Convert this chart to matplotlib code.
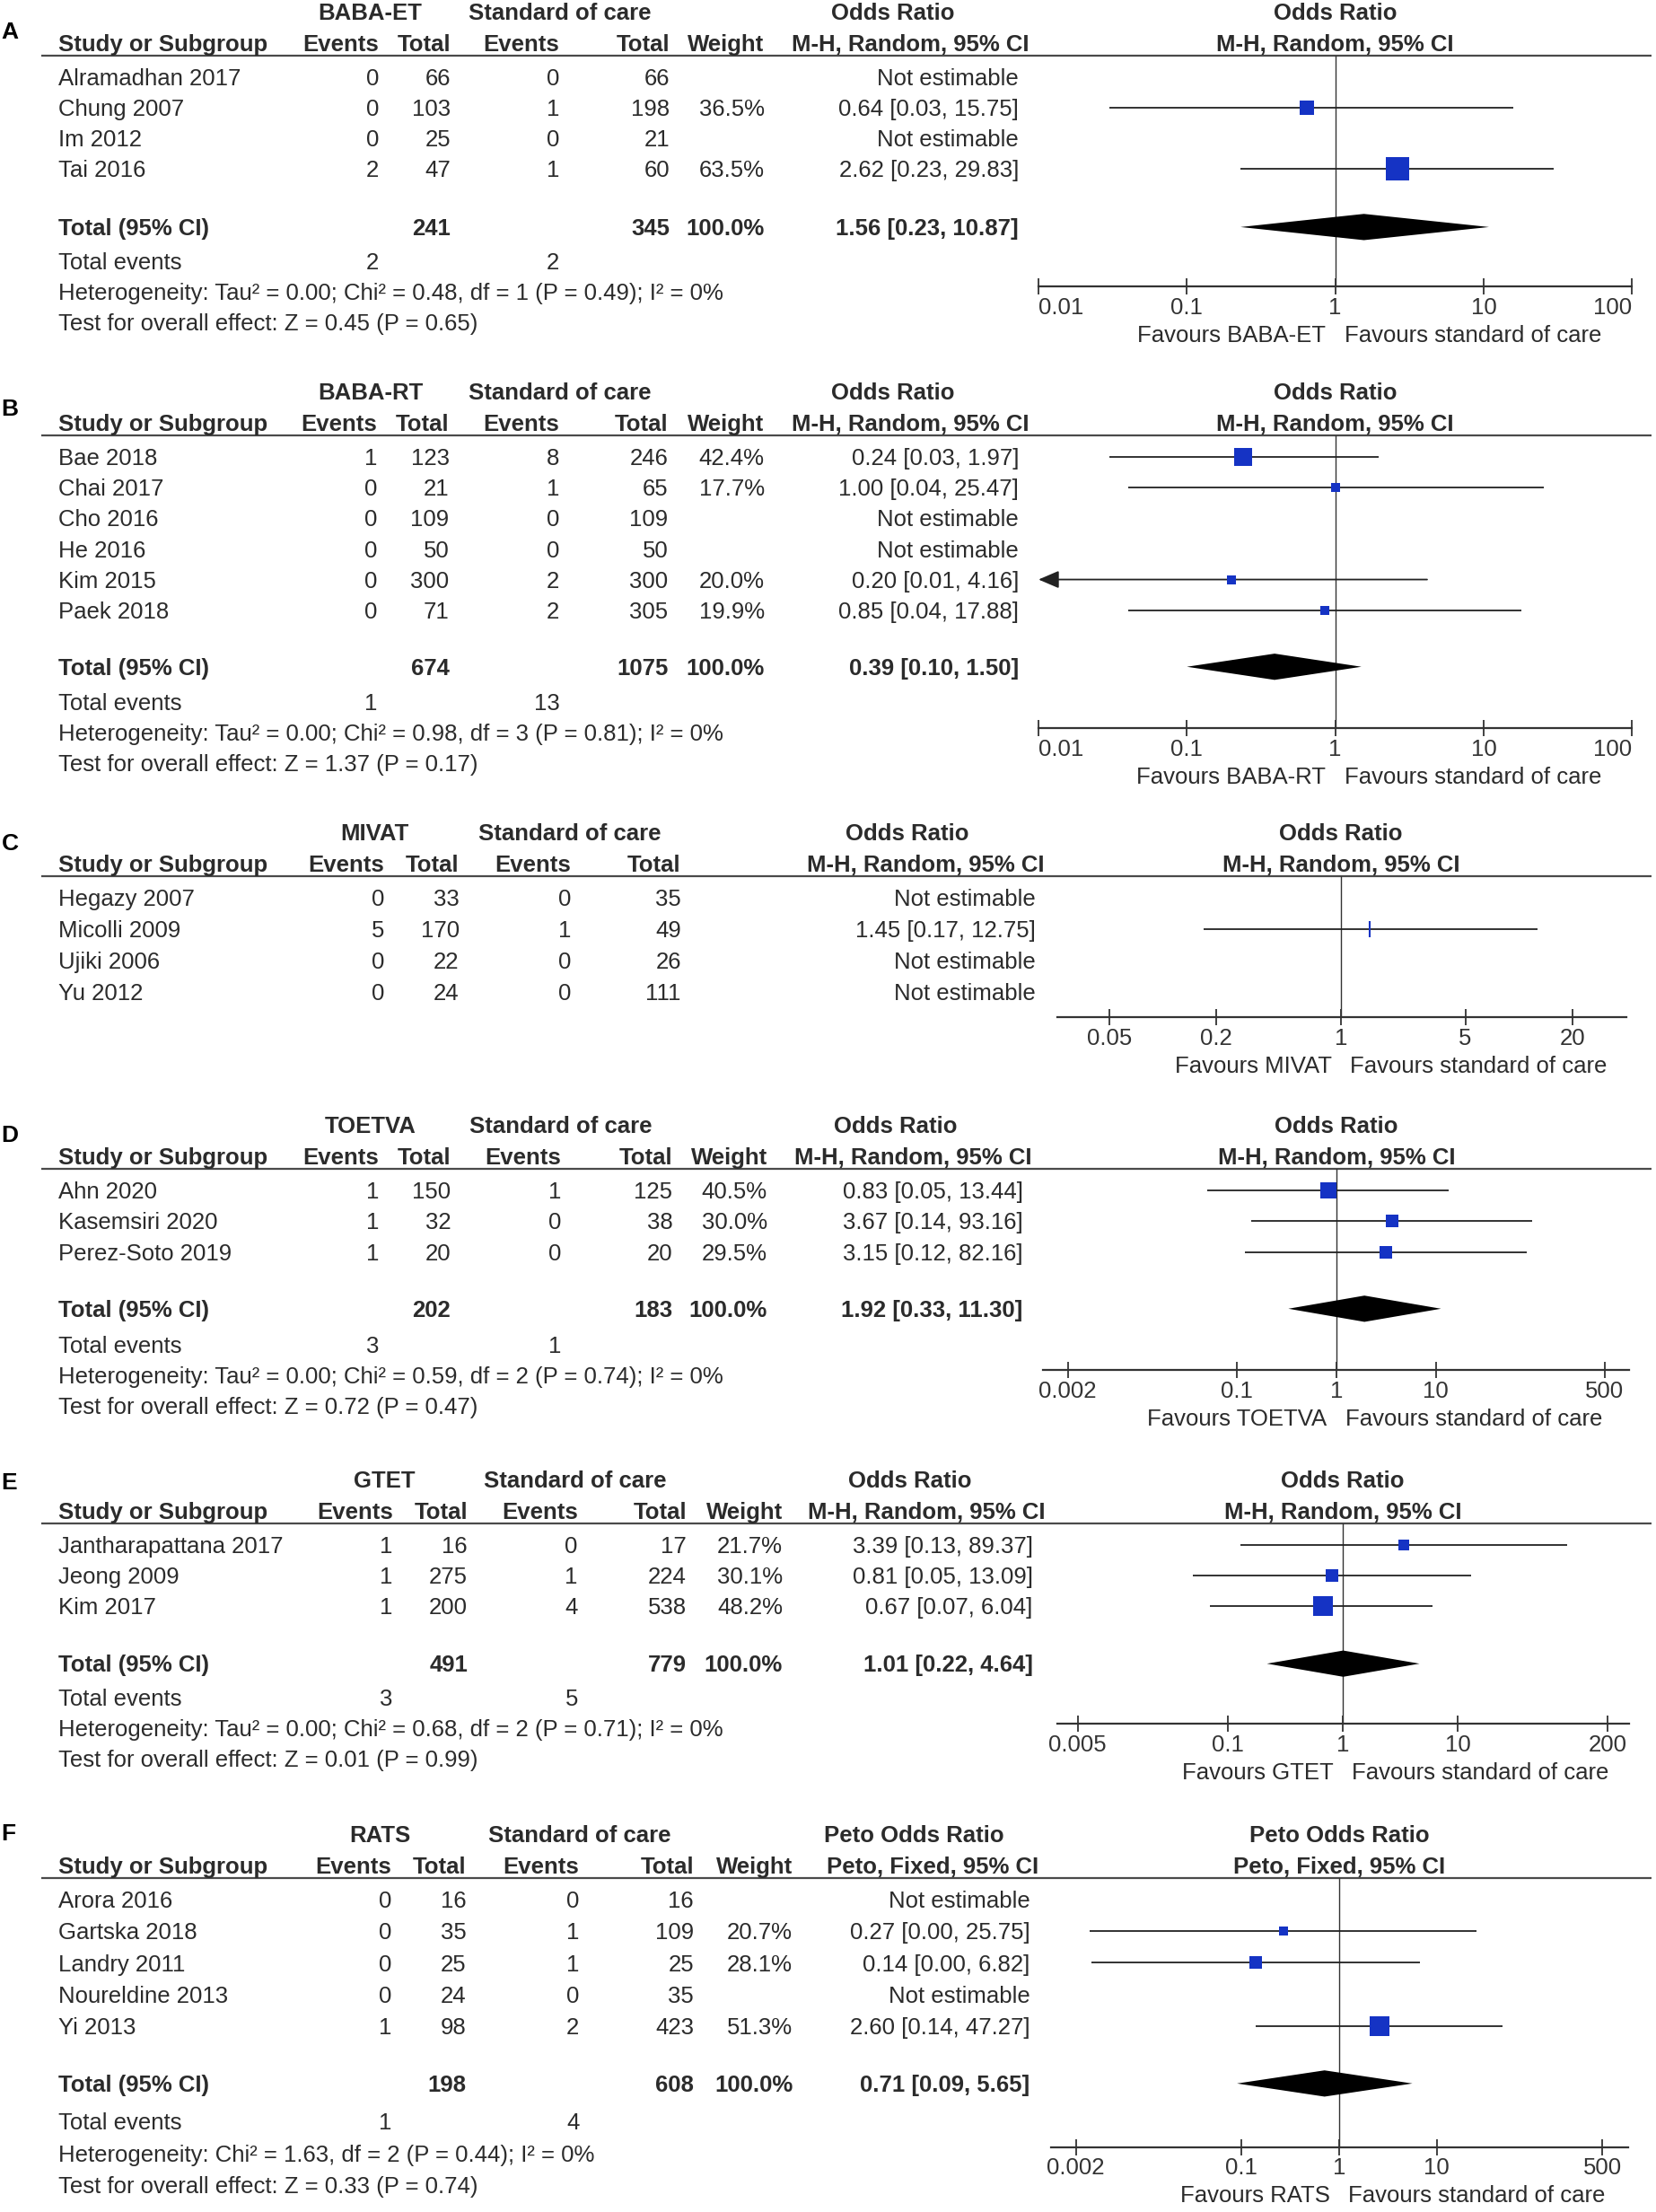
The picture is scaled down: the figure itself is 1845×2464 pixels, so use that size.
import matplotlib
matplotlib.use('Agg')  # headless
import matplotlib.pyplot as plt
import matplotlib.transforms as mtransforms
from matplotlib.ticker import NullLocator

plt.rcParams['font.family'] = ['Liberation Sans', 'DejaVu Sans']

# ---------------- data ----------------
# A: BABA-ET
a_study = ['Alramadhan 2017', 'Chung 2007', 'Im 2012', 'Tai 2016']
a_ev_exp = [0, 0, 0, 2]
a_n_exp = [66, 103, 25, 47]
a_ev_ctl = [0, 1, 0, 1]
a_n_ctl = [66, 198, 21, 60]
a_weight = [None, 36.5, None, 63.5]
a_or = [None, 0.64, None, 2.62]
a_lo = [None, 0.03, None, 0.23]
a_hi = [None, 15.75, None, 29.83]
a_pooled = (1.56, 0.23, 10.87)
a_ticks = [0.01, 0.1, 1, 10, 100]
a_het = 'Heterogeneity: Tau² = 0.00; Chi² = 0.48, df = 1 (P = 0.49); I² = 0%'
a_test = 'Test for overall effect: Z = 0.45 (P = 0.65)'

# B: BABA-RT
b_study = ['Bae 2018', 'Chai 2017', 'Cho 2016', 'He 2016', 'Kim 2015', 'Paek 2018']
b_ev_exp = [1, 0, 0, 0, 0, 0]
b_n_exp = [123, 21, 109, 50, 300, 71]
b_ev_ctl = [8, 1, 0, 0, 2, 2]
b_n_ctl = [246, 65, 109, 50, 300, 305]
b_weight = [42.4, 17.7, None, None, 20.0, 19.9]
b_or = [0.24, 1.00, None, None, 0.20, 0.85]
b_lo = [0.03, 0.04, None, None, 0.0095, 0.04]
b_hi = [1.97, 25.47, None, None, 4.16, 17.88]
b_pooled = (0.39, 0.10, 1.50)
b_ticks = [0.01, 0.1, 1, 10, 100]
b_het = 'Heterogeneity: Tau² = 0.00; Chi² = 0.98, df = 3 (P = 0.81); I² = 0%'
b_test = 'Test for overall effect: Z = 1.37 (P = 0.17)'

# C: MIVAT
c_study = ['Hegazy 2007', 'Micolli 2009', 'Ujiki 2006', 'Yu 2012']
c_ev_exp = [0, 5, 0, 0]
c_n_exp = [33, 170, 22, 24]
c_ev_ctl = [0, 1, 0, 0]
c_n_ctl = [35, 49, 26, 111]
c_weight = [None, None, None, None]
c_or = [None, 1.45, None, None]
c_lo = [None, 0.17, None, None]
c_hi = [None, 12.75, None, None]
c_pooled = None
c_ticks = [0.05, 0.2, 1, 5, 20]
c_het = None
c_test = None

# D: TOETVA
d_study = ['Ahn 2020', 'Kasemsiri 2020', 'Perez-Soto 2019']
d_ev_exp = [1, 1, 1]
d_n_exp = [150, 32, 20]
d_ev_ctl = [1, 0, 0]
d_n_ctl = [125, 38, 20]
d_weight = [40.5, 30.0, 29.5]
d_or = [0.83, 3.67, 3.15]
d_lo = [0.05, 0.14, 0.12]
d_hi = [13.44, 93.16, 82.16]
d_pooled = (1.92, 0.33, 11.30)
d_ticks = [0.002, 0.1, 1, 10, 500]
d_het = 'Heterogeneity: Tau² = 0.00; Chi² = 0.59, df = 2 (P = 0.74); I² = 0%'
d_test = 'Test for overall effect: Z = 0.72 (P = 0.47)'

# E: GTET
e_study = ['Jantharapattana 2017', 'Jeong 2009', 'Kim 2017']
e_ev_exp = [1, 1, 1]
e_n_exp = [16, 275, 200]
e_ev_ctl = [0, 1, 4]
e_n_ctl = [17, 224, 538]
e_weight = [21.7, 30.1, 48.2]
e_or = [3.39, 0.81, 0.67]
e_lo = [0.13, 0.05, 0.07]
e_hi = [89.37, 13.09, 6.04]
e_pooled = (1.01, 0.22, 4.64)
e_ticks = [0.005, 0.1, 1, 10, 200]
e_het = 'Heterogeneity: Tau² = 0.00; Chi² = 0.68, df = 2 (P = 0.71); I² = 0%'
e_test = 'Test for overall effect: Z = 0.01 (P = 0.99)'

# F: RATS
f_study = ['Arora 2016', 'Gartska 2018', 'Landry 2011', 'Noureldine 2013', 'Yi 2013']
f_ev_exp = [0, 0, 0, 0, 1]
f_n_exp = [16, 35, 25, 24, 98]
f_ev_ctl = [0, 1, 1, 0, 2]
f_n_ctl = [16, 109, 25, 35, 423]
f_weight = [None, 20.7, 28.1, None, 51.3]
f_or = [None, 0.27, 0.14, None, 2.60]
f_lo = [None, 0.0028, 0.0029, None, 0.14]
f_hi = [None, 25.75, 6.82, None, 47.27]
f_pooled = (0.71, 0.09, 5.65)
f_ticks = [0.002, 0.1, 1, 10, 500]
f_het = 'Heterogeneity: Chi² = 1.63, df = 2 (P = 0.44); I² = 0%'
f_test = 'Test for overall effect: Z = 0.33 (P = 0.74)'

total_weight = 100.0

MH = 'M-H, Random, 95% CI'
panels = [
    dict(letter='A', arm='BABA-ET', stat='Odds Ratio', method=MH, study=a_study,
         ev1=a_ev_exp, n1=a_n_exp, ev2=a_ev_ctl, n2=a_n_ctl, weight=a_weight,
         est=a_or, lo=a_lo, hi=a_hi, pooled=a_pooled, ticks=a_ticks, het=a_het, test=a_test),
    dict(letter='B', arm='BABA-RT', stat='Odds Ratio', method=MH, study=b_study,
         ev1=b_ev_exp, n1=b_n_exp, ev2=b_ev_ctl, n2=b_n_ctl, weight=b_weight,
         est=b_or, lo=b_lo, hi=b_hi, pooled=b_pooled, ticks=b_ticks, het=b_het, test=b_test),
    dict(letter='C', arm='MIVAT', stat='Odds Ratio', method=MH, study=c_study,
         ev1=c_ev_exp, n1=c_n_exp, ev2=c_ev_ctl, n2=c_n_ctl, weight=c_weight,
         est=c_or, lo=c_lo, hi=c_hi, pooled=c_pooled, ticks=c_ticks, het=c_het, test=c_test),
    dict(letter='D', arm='TOETVA', stat='Odds Ratio', method=MH, study=d_study,
         ev1=d_ev_exp, n1=d_n_exp, ev2=d_ev_ctl, n2=d_n_ctl, weight=d_weight,
         est=d_or, lo=d_lo, hi=d_hi, pooled=d_pooled, ticks=d_ticks, het=d_het, test=d_test),
    dict(letter='E', arm='GTET', stat='Odds Ratio', method=MH, study=e_study,
         ev1=e_ev_exp, n1=e_n_exp, ev2=e_ev_ctl, n2=e_n_ctl, weight=e_weight,
         est=e_or, lo=e_lo, hi=e_hi, pooled=e_pooled, ticks=e_ticks, het=e_het, test=e_test),
    dict(letter='F', arm='RATS', stat='Peto Odds Ratio', method='Peto, Fixed, 95% CI', study=f_study,
         ev1=f_ev_exp, n1=f_n_exp, ev2=f_ev_ctl, n2=f_n_ctl, weight=f_weight,
         est=f_or, lo=f_lo, hi=f_hi, pooled=f_pooled, ticks=f_ticks, het=f_het, test=f_test),
]

# ---------------- layout (reference px, 1172 x 1568 grid) ----------------
# cols: events1, total1, events2, total2, weight, CI values, CI header (right edges)
layout = {
    'A': dict(row0=54.6, step=21.7, letter_y=21, total_off=0.9, axis_off=2.84,
              ax_x=(735, 1155), xlim=(0.01, 100), inset=True,
              cols=(268, 319, 396, 474, 541, 721, 728), grp=(262, 396, 632)),
    'B': dict(row0=324, step=21.7, letter_y=288, total_off=0.85, axis_off=2.85,
              ax_x=(735, 1155), xlim=(0.01, 100), inset=True,
              cols=(267, 318, 396, 473, 541, 721, 728), grp=(262, 396, 632)),
    'C': dict(row0=636.5, step=22.2, letter_y=596, total_off=0.85, axis_off=-0.2,
              ax_x=(748, 1151), xlim=(0.0254, 40.1), inset=False,
              cols=(272, 325, 404, 482, None, 733, 739), grp=(265, 403, 642)),
    'D': dict(row0=843.8, step=21.85, letter_y=803, total_off=0.84, axis_off=2.82,
              ax_x=(738, 1153), xlim=(0.00112, 881), inset=False,
              cols=(268, 319, 397, 476, 543, 724, 730), grp=(262, 397, 634)),
    'E': dict(row0=1095.3, step=21.65, letter_y=1049, total_off=0.88, axis_off=2.85,
              ax_x=(748, 1153), xlim=(0.0033, 307), inset=False,
              cols=(278, 331, 409, 486, 554, 731, 740), grp=(272, 407, 644)),
    'F': dict(row0=1346.4, step=22.5, letter_y=1298, total_off=0.8, axis_off=2.8,
              ax_x=(744, 1152), xlim=(0.00112, 913), inset=False,
              cols=(277, 330, 410, 491, 561, 729, 735), grp=(269, 410, 647)),
}

W, H = 1172.0, 1568.0
TXT = '#2b2b2b'
BLUE = '#1533c4'
FS = 18.5
BASE = 5.8   # half cap height in grid px, for baseline placement

fig = plt.figure(figsize=(18.45, 24.64), dpi=100)
canvas = fig.add_axes([0, 0, 1, 1])
canvas.set_xlim(0, W)
canvas.set_ylim(H, 0)
canvas.axis('off')


def txt(x, y, s, ha='left', bold=False):
    canvas.text(x, y + BASE, s, ha=ha, va='baseline', fontsize=FS, color=TXT,
                fontweight='bold' if bold else 'normal')


def ci_text(e, lo, hi):
    return '%.2f [%.2f, %.2f]' % (e, lo, hi)


for p in panels:
    L = layout[p['letter']]
    n = len(p['study'])
    row0, step = L['row0'], L['step']
    c_ev1, c_n1, c_ev2, c_n2, c_wt, c_ci, c_cih = L['cols']
    has_wt = c_wt is not None
    has_total = p['pooled'] is not None

    def ry(i):
        return row0 + i * step

    h1, h2, rule = row0 - 46.5, row0 - 24.3, row0 - 15.2

    # panel letter
    canvas.text(1, L['letter_y'] + 6.5, p['letter'], fontsize=19, fontweight='bold',
                color='black', va='baseline')

    # table headers
    txt(L['grp'][0], h1, p['arm'], 'center', True)
    txt(L['grp'][1], h1, 'Standard of care', 'center', True)
    txt(L['grp'][2], h1, p['stat'], 'center', True)
    txt(41, h2, 'Study or Subgroup', bold=True)
    txt(c_ev1, h2, 'Events', 'right', True)
    txt(c_n1, h2, 'Total', 'right', True)
    txt(c_ev2, h2, 'Events', 'right', True)
    txt(c_n2, h2, 'Total', 'right', True)
    if has_wt:
        txt(c_wt, h2, 'Weight', 'right', True)
    txt(c_cih, h2, p['method'], 'right', True)
    canvas.plot([29, 1169], [rule, rule], color='#4a4a4a', lw=1.6, solid_capstyle='butt')

    # study rows
    for i in range(n):
        y = ry(i)
        txt(41, y, p['study'][i])
        txt(c_ev1, y, str(p['ev1'][i]), 'right')
        txt(c_n1, y, str(p['n1'][i]), 'right')
        txt(c_ev2, y, str(p['ev2'][i]), 'right')
        txt(c_n2, y, str(p['n2'][i]), 'right')
        if p['est'][i] is None:
            txt(c_ci, y, 'Not estimable', 'right')
        else:
            if has_wt:
                txt(c_wt, y, '%.1f%%' % p['weight'][i], 'right')
            txt(c_ci, y, ci_text(p['est'][i], p['lo'][i], p['hi'][i]), 'right')

    # totals block
    if has_total:
        yt = ry(n + L['total_off'])
        txt(41, yt, 'Total (95% CI)', bold=True)
        txt(c_n1, yt, str(sum(p['n1'])), 'right', True)
        txt(c_n2, yt, str(sum(p['n2'])), 'right', True)
        txt(c_wt, yt, '%.1f%%' % total_weight, 'right', True)
        txt(c_ci, yt, ci_text(*p['pooled']), 'right', True)
        ye = ry(n + 2)
        txt(41, ye, 'Total events')
        txt(c_ev1, ye, str(sum(p['ev1'])), 'right')
        txt(c_ev2, ye, str(sum(p['ev2'])), 'right')
        txt(41, ry(n + 3), p['het'])
        txt(41, ry(n + 4), p['test'])

    # forest axes: y in row-index units, shared with the table rows
    axis_idx = n + L['axis_off']
    axis_y = ry(axis_idx)
    x0, x1 = L['ax_x']
    ax = fig.add_axes([x0 / W, 1 - axis_y / H, (x1 - x0) / W, (axis_y - rule) / H])
    ax.set_facecolor('none')
    ax.set_xscale('log')
    ax.set_xlim(*L['xlim'])
    ax.set_ylim(axis_idx, (rule - row0) / step)
    for s in ('left', 'right', 'top'):
        ax.spines[s].set_visible(False)
    ax.spines['bottom'].set_color('#333333')
    ax.spines['bottom'].set_linewidth(1.6)
    ax.set_yticks([])
    ax.xaxis.set_minor_locator(NullLocator())
    ax.set_xticks(p['ticks'], labels=['%g' % t for t in p['ticks']])
    ax.tick_params(axis='x', direction='inout', length=13, width=1.3, pad=2,
                   labelsize=FS, colors='#333333')
    if L['inset']:
        lbls = ax.get_xticklabels()
        lbls[0].set_horizontalalignment('left')
        lbls[-1].set_horizontalalignment('right')

    ax.axvline(1, color='#333333', lw=1.0, zorder=1)

    for i in range(n):
        e = p['est'][i]
        if e is None:
            continue
        lo, hi = p['lo'][i], p['hi'][i]
        if lo < L['xlim'][0]:
            ax.annotate('', xy=(L['xlim'][0], i), xytext=(hi, i),
                        arrowprops=dict(arrowstyle='-|>,head_length=0.7,head_width=0.3',
                                        lw=1.3, color='#222222', shrinkA=0, shrinkB=0,
                                        mutation_scale=20), zorder=2)
        else:
            ax.plot([lo, hi], [i, i], color='#222222', lw=1.3, zorder=2,
                    solid_capstyle='butt')
        w = p['weight'][i]
        if w is None:
            ax.plot([e], [i], marker='|', ms=13.5, mew=1.5, color=BLUE, zorder=3)
        else:
            ax.plot([e], [i], marker='s', ms=0.684 * w ** 0.8, mew=0, color=BLUE,
                    zorder=3, clip_on=False)

    if has_total:
        e, lo, hi = p['pooled']
        t = n + L['total_off']
        hh = 9.3 / step
        ax.fill([lo, e, hi, e], [t, t - hh, t, t + hh], color='black', lw=0, zorder=3)

    # right-side headers and favours labels, anchored to OR = 1
    blend = mtransforms.blended_transform_factory(ax.transData, canvas.transData)
    ax.text(1, h1 + BASE, p['stat'], transform=blend, ha='center', va='baseline',
            fontsize=FS, fontweight='bold', color=TXT)
    ax.text(1, h2 + BASE, p['method'], transform=blend, ha='center', va='baseline',
            fontsize=FS, fontweight='bold', color=TXT)
    fav_y = axis_y + 33.5 + BASE
    ax.annotate('Favours ' + p['arm'], xy=(1, fav_y), xycoords=blend,
                xytext=(-7.5, 0), textcoords='offset points', ha='right', va='baseline',
                fontsize=FS, color=TXT, annotation_clip=False)
    ax.annotate('Favours standard of care', xy=(1, fav_y), xycoords=blend,
                xytext=(7.5, 0), textcoords='offset points', ha='left', va='baseline',
                fontsize=FS, color=TXT, annotation_clip=False)

fig.savefig('out.png', dpi=100, facecolor='white')
